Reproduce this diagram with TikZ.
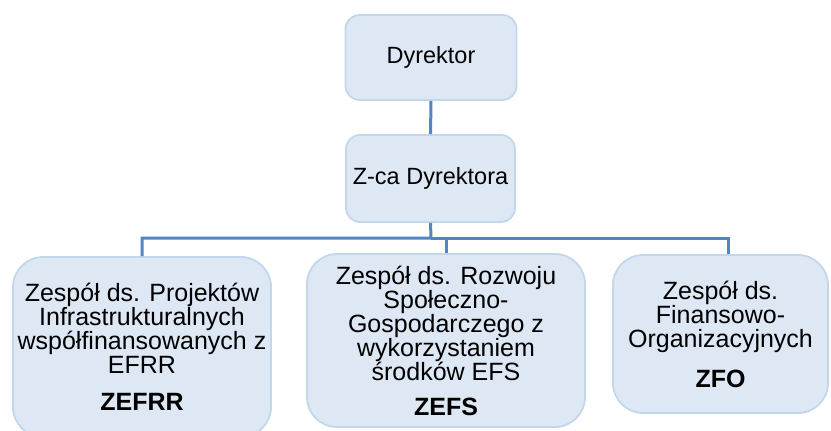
\documentclass[tikz,border=0pt]{standalone}
\usepackage{fontspec}
\setmainfont{Liberation Sans}
\definecolor{boxfill}{HTML}{DEE8F5}
\definecolor{boxline}{HTML}{C3D7EC}
\definecolor{linkcol}{HTML}{5485C2}
\newcommand{\teamfont}{\fontsize{25}{24}\selectfont\lineskiplimit=-20pt\relax}
\tikzset{unit/.style={draw=boxline,line width=1.8pt,fill=boxfill,rounded corners=14pt,align=center,inner sep=0pt,font=\fontsize{23.5}{26}\selectfont}}
\tikzset{team/.style={unit,rounded corners=30pt,font=\teamfont}}
\tikzset{link/.style={draw=linkcol,line width=3pt}}

\begin{document}
\begin{tikzpicture}[x=1pt,y=-1pt]
  \useasboundingbox (0,0) rectangle (831,431);
  \clip (0,0) rectangle (831,431);
  % management
  \node[unit,minimum width=171pt,minimum height=85pt] (dyr) at (431,57.5) {Dyrektor};
  \node[unit,minimum width=169pt,minimum height=87pt] (zca) at (430.5,178.5) {Z-ca Dyrektora};
  % teams
  \node[team,minimum width=258pt,minimum height=180pt] (zefrr) at (142,347)
    {Zespół ds. Projektów\\Infrastrukturalnych\\współfinansowanych z\\EFRR\\[13pt]\textbf{ZEFRR}};
  \node[team,minimum width=278pt,minimum height=173pt] (zefs) at (446,340.5)
    {Zespół ds. Rozwoju\\Społeczno-\\Gospodarczego z\\wykorzystaniem\\środków EFS\\[11pt]\textbf{ZEFS}};
  \node[team,minimum width=215pt,minimum height=158pt] (zfo) at (720.5,334)
    {Zespół ds.\\Finansowo-\\Organizacyjnych\\[16pt]\textbf{ZFO}};
  % links
  \coordinate (bar) at (431,238);
  \draw[link] (dyr) -- (zca);
  \draw[link] (zca.south) -- (bar) -| (zefrr.north);
  \draw[link] (bar) -| (zefs.north);
  \draw[link] (bar) -| ([xshift=7.5pt]zfo.north);
\end{tikzpicture}
\end{document}
